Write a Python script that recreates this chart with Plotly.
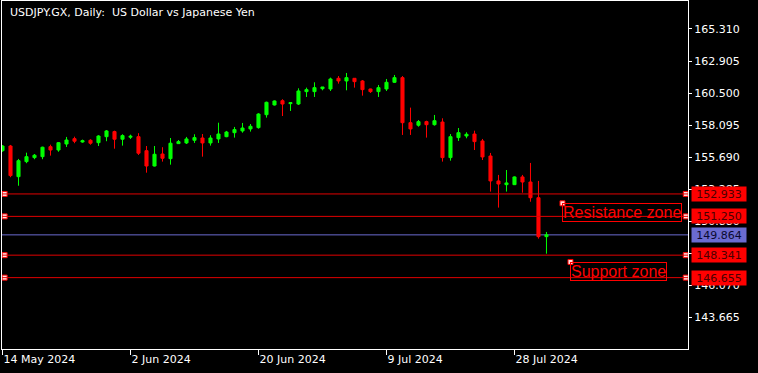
import pandas as pd
import plotly.graph_objects as go

# ---------------- data ----------------
symbol_title = "USDJPY.GX, Daily:\u00a0 US Dollar vs Japanese Yen"
start_date = "2024-05-14"

opens = [156.18, 156.53, 154.23, 155.36, 155.66, 155.73, 156.48, 156.23, 156.68, 157.08,
         156.83, 156.96, 156.78, 157.23, 157.61, 157.04, 157.19, 157.23, 156.18, 155.03,
         155.93, 155.58, 156.71, 156.76, 156.96, 157.13, 156.76, 157.06, 157.23, 157.53,
         157.66, 157.81, 157.91, 158.88, 159.61, 159.93, 159.71, 159.68, 160.61, 160.61,
         160.83, 160.81, 161.61, 161.41, 161.61, 161.41, 160.81, 160.61, 160.81, 161.31,
         161.66, 158.28, 158.09, 158.36, 158.13, 158.33, 155.66, 157.16, 157.28, 157.43,
         156.91, 155.78, 153.91, 153.63, 153.63, 154.21, 153.83, 152.65, 149.73]
highs = [156.60, 156.61, 155.56, 156.03, 155.93, 156.48, 156.63, 156.83, 157.21, 157.23,
         157.01, 157.04, 157.34, 157.73, 157.68, 157.41, 157.38, 157.49, 156.53, 156.53,
         156.44, 157.13, 156.98, 157.21, 157.41, 157.43, 157.34, 158.28, 157.66, 157.96,
         158.26, 158.18, 158.99, 159.86, 159.95, 160.04, 159.79, 160.86, 160.91, 161.31,
         160.96, 161.66, 161.78, 162.01, 161.63, 161.48, 160.83, 161.11, 161.56, 161.86,
         161.78, 159.41, 158.48, 158.43, 158.86, 158.61, 157.43, 157.88, 157.56, 157.68,
         157.06, 156.01, 154.36, 154.73, 154.25, 154.36, 155.26, 153.91, 150.08]
lows = [156.10, 154.19, 153.55, 155.24, 155.54, 155.54, 155.81, 156.10, 156.46, 156.74,
        156.78, 156.63, 156.53, 156.89, 156.33, 156.56, 157.06, 155.86, 154.53, 155.00,
        155.36, 155.13, 156.68, 156.68, 156.76, 155.73, 156.56, 156.76, 157.19, 157.16,
        157.53, 157.61, 157.83, 158.66, 159.57, 158.78, 159.16, 159.61, 160.21, 160.21,
        160.71, 160.66, 161.21, 160.71, 160.91, 160.31, 160.51, 160.21, 160.66, 161.26,
        157.36, 157.36, 157.98, 157.16, 158.06, 155.36, 155.43, 156.91, 157.11, 156.23,
        155.48, 153.11, 151.91, 153.11, 153.60, 153.03, 152.35, 149.58, 148.45]
closes = [156.53, 154.31, 155.43, 155.73, 155.84, 156.44, 156.23, 156.78, 156.98, 156.89,
          156.93, 156.74, 157.28, 157.66, 157.04, 157.31, 157.26, 155.99, 155.03, 155.91,
          155.61, 156.74, 156.86, 157.06, 157.16, 156.76, 157.13, 157.43, 157.58, 157.76,
          157.88, 158.01, 158.93, 159.81, 159.91, 159.68, 159.78, 160.66, 160.76, 160.91,
          160.96, 161.56, 161.41, 161.66, 161.36, 160.76, 160.61, 160.91, 161.31, 161.66,
          158.28, 157.81, 158.36, 158.13, 158.43, 155.66, 157.23, 157.53, 157.41, 156.86,
          155.71, 153.91, 153.68, 153.76, 154.21, 153.83, 152.65, 149.73, 149.864]

price_ticks = [165.310, 162.905, 160.500, 158.095, 155.690, 153.285, 150.880, 148.475, 146.070, 143.665]
date_ticks = ["2024-05-14", "2024-06-02", "2024-06-20", "2024-07-09", "2024-07-28"]
date_tick_labels = ["14 May 2024", "2 Jun 2024", "20 Jun 2024", "9 Jul 2024", "28 Jul 2024"]

level_lines = [152.933, 151.250, 148.341, 146.655]
bid_price = 149.864

zone_texts = ["Resistance zone", "Support zone"]
zone_dates = ["2024-08-04", "2024-08-05"]   # anchor bars (future bars of the chart)
zone_prices = [152.23, 147.83]

x_range = [-0.0625, 85.69]
y_range = [141.30, 167.41]

# ---------------- build ----------------
days = [d for d in pd.date_range(start_date, "2024-09-30", freq="D") if d.weekday() != 5]
day_index = {d.strftime("%Y-%m-%d"): i for i, d in enumerate(days)}
x = list(range(len(opens)))
tickvals = [day_index[d] for d in date_ticks]

GREEN = "#00FF00"
RED = "#FF0000"
LINE_RED = "#E00000"
BLUE = "#6B6BD0"
FONT = "DejaVu Sans"

fig = go.Figure()
fig.add_trace(go.Candlestick(
    x=x, open=opens, high=highs, low=lows, close=closes,
    increasing=dict(line=dict(color=GREEN, width=1), fillcolor=GREEN),
    decreasing=dict(line=dict(color=RED, width=1), fillcolor=RED),
    whiskerwidth=0, hoverinfo="skip", showlegend=False,
))

for lvl in level_lines:
    fig.add_shape(type="line", xref="paper", x0=0, x1=1, yref="y", y0=lvl, y1=lvl,
                  line=dict(color=LINE_RED, width=1), layer="above")
fig.add_shape(type="line", xref="paper", x0=0, x1=1, yref="y", y0=bid_price, y1=bid_price,
              line=dict(color=BLUE, width=1), layer="below")

# selection handles on the line ends
hx, hy = [], []
for lvl in level_lines:
    hx += [x_range[0] + 0.33, x_range[1] - 0.28]
    hy += [lvl, lvl]
zone_x = [day_index[d] for d in zone_dates]
fig.add_trace(go.Scatter(
    x=hx + zone_x, y=hy + zone_prices, mode="markers",
    marker=dict(symbol="square", size=5, color="#FFE0E0", line=dict(color=RED, width=1)),
    hoverinfo="skip", showlegend=False, cliponaxis=False,
))

annotations = []
for txt, zx, zp in zip(zone_texts, zone_x, zone_prices):
    annotations.append(dict(
        xref="x", yref="y", x=zx, y=zp, xanchor="left", yanchor="top",
        text=txt, showarrow=False, font=dict(family="Liberation Sans", size=16, color=RED),
        bordercolor=RED, borderwidth=1, borderpad=0,
    ))

for lvl in level_lines:
    annotations.append(dict(
        xref="paper", yref="y", x=1, y=lvl, xanchor="left", yanchor="middle", xshift=3,
        text=f"{lvl:.3f}", showarrow=False, width=54, height=14, bgcolor=RED,
        font=dict(family=FONT, size=11, color="#4A0000"), borderpad=0, align="center",
    ))
annotations.append(dict(
    xref="paper", yref="y", x=1, y=bid_price, xanchor="left", yanchor="middle", xshift=3,
    text=f"{bid_price:.3f}", showarrow=False, width=54, height=14, bgcolor=BLUE,
    font=dict(family=FONT, size=11, color="#0A0A30"), borderpad=0, align="center",
))
annotations.append(dict(
    xref="paper", yref="paper", x=0, y=1, xanchor="left", yanchor="top", xshift=6, yshift=-3,
    text=symbol_title, showarrow=False, font=dict(family=FONT, size=11, color="white"),
))

fig.update_layout(
    width=758, height=373,
    margin=dict(l=2, r=70, t=1, b=24, autoexpand=False),
    paper_bgcolor="black", plot_bgcolor="black",
    boxgap=0.45,
    annotations=annotations,
    showlegend=False,
    xaxis=dict(
        range=x_range, showgrid=False, zeroline=False, rangeslider=dict(visible=False),
        showline=True, linecolor="white", linewidth=1, mirror=True,
        ticks="outside", ticklen=5, tickcolor="white", tickwidth=1,
        tickvals=tickvals, ticktext=date_tick_labels,
        tickfont=dict(family=FONT, size=11, color="white"),
        ticklabelposition="outside right",
    ),
    yaxis=dict(
        range=y_range, side="right", showgrid=False, zeroline=False,
        showline=True, linecolor="white", linewidth=1, mirror=True,
        ticks="outside", ticklen=3, tickcolor="white", tickwidth=1,
        tickvals=price_ticks, ticktext=[f"{v:.3f}" for v in price_ticks],
        tickfont=dict(family=FONT, size=11, color="white"),
    ),
)

fig.write_html("out.html")
